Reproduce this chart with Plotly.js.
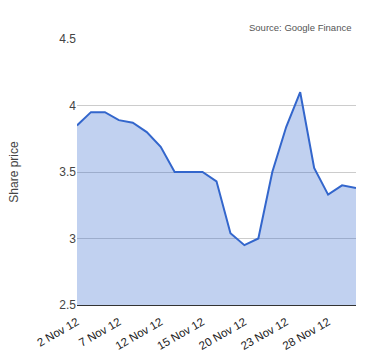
<!DOCTYPE html>
<html>
<head>
<meta charset="utf-8">
<script src="https://cdn.plot.ly/plotly-3.0.1.min.js"></script>
<style>html,body{margin:0;padding:0;background:#fff;}#chart{width:380px;height:360px;}</style>
</head>
<body>
<div id="chart"></div>
<script>
const dates = ["2 Nov 12","5 Nov 12","6 Nov 12","7 Nov 12","8 Nov 12","9 Nov 12","12 Nov 12","13 Nov 12","14 Nov 12","15 Nov 12","16 Nov 12","19 Nov 12","20 Nov 12","21 Nov 12","22 Nov 12","23 Nov 12","26 Nov 12","27 Nov 12","28 Nov 12","29 Nov 12","30 Nov 12"];
const prices = [3.85,3.95,3.95,3.89,3.87,3.80,3.69,3.50,3.50,3.50,3.43,3.04,2.95,3.00,3.50,3.84,4.10,3.53,3.33,3.40,3.38];
const tickLabels = ["2 Nov 12","7 Nov 12","12 Nov 12","15 Nov 12","20 Nov 12","23 Nov 12","28 Nov 12"];
const yTicks = [2.5,3,3.5,4,4.5];
const yTickText = ["2.5","3","3.5","4","4.5"];

const trace = {
  x: dates, y: prices, type: 'scatter', mode: 'lines',
  fill: 'tozeroy', fillcolor: 'rgba(51,102,204,0.3)',
  line: {color: '#3366cc', width: 2}, hoverinfo: 'x+y'
};
const layout = {
  width: 380, height: 360,
  margin: {l: 77, r: 24, t: 38.5, b: 55},
  paper_bgcolor: '#fff', plot_bgcolor: '#fff',
  font: {family: 'Arial, Liberation Sans, sans-serif', color: '#444', size: 11},
  showlegend: false,
  xaxis: {
    type: 'category', range: [0, dates.length - 1],
    tickvals: tickLabels, ticktext: tickLabels, tickangle: -30,
    showgrid: false, zeroline: false, showline: true, linecolor: '#333', linewidth: 1,
    ticks: '', ticklabelstandoff: 5, tickfont: {size: 11.5, color: '#222'}
  },
  yaxis: {
    range: [2.5, 4.5], tickvals: yTicks, ticktext: yTickText,
    showgrid: true, gridcolor: '#ccc', zeroline: false, showline: false,
    ticks: '', tickfont: {size: 12, color: '#444'},
    title: {text: 'Share price', font: {size: 12, color: '#444'}, standoff: 38}
  },
  annotations: [{
    text: 'Source: Google Finance', xref: 'paper', yref: 'paper',
    x: 0.99, y: 1.045, xanchor: 'right', yanchor: 'middle', showarrow: false,
    font: {size: 9.5, color: '#555'}
  }]
};
Plotly.newPlot('chart', [trace], layout, {displayModeBar: false, staticPlot: true});
</script>
</body>
</html>
